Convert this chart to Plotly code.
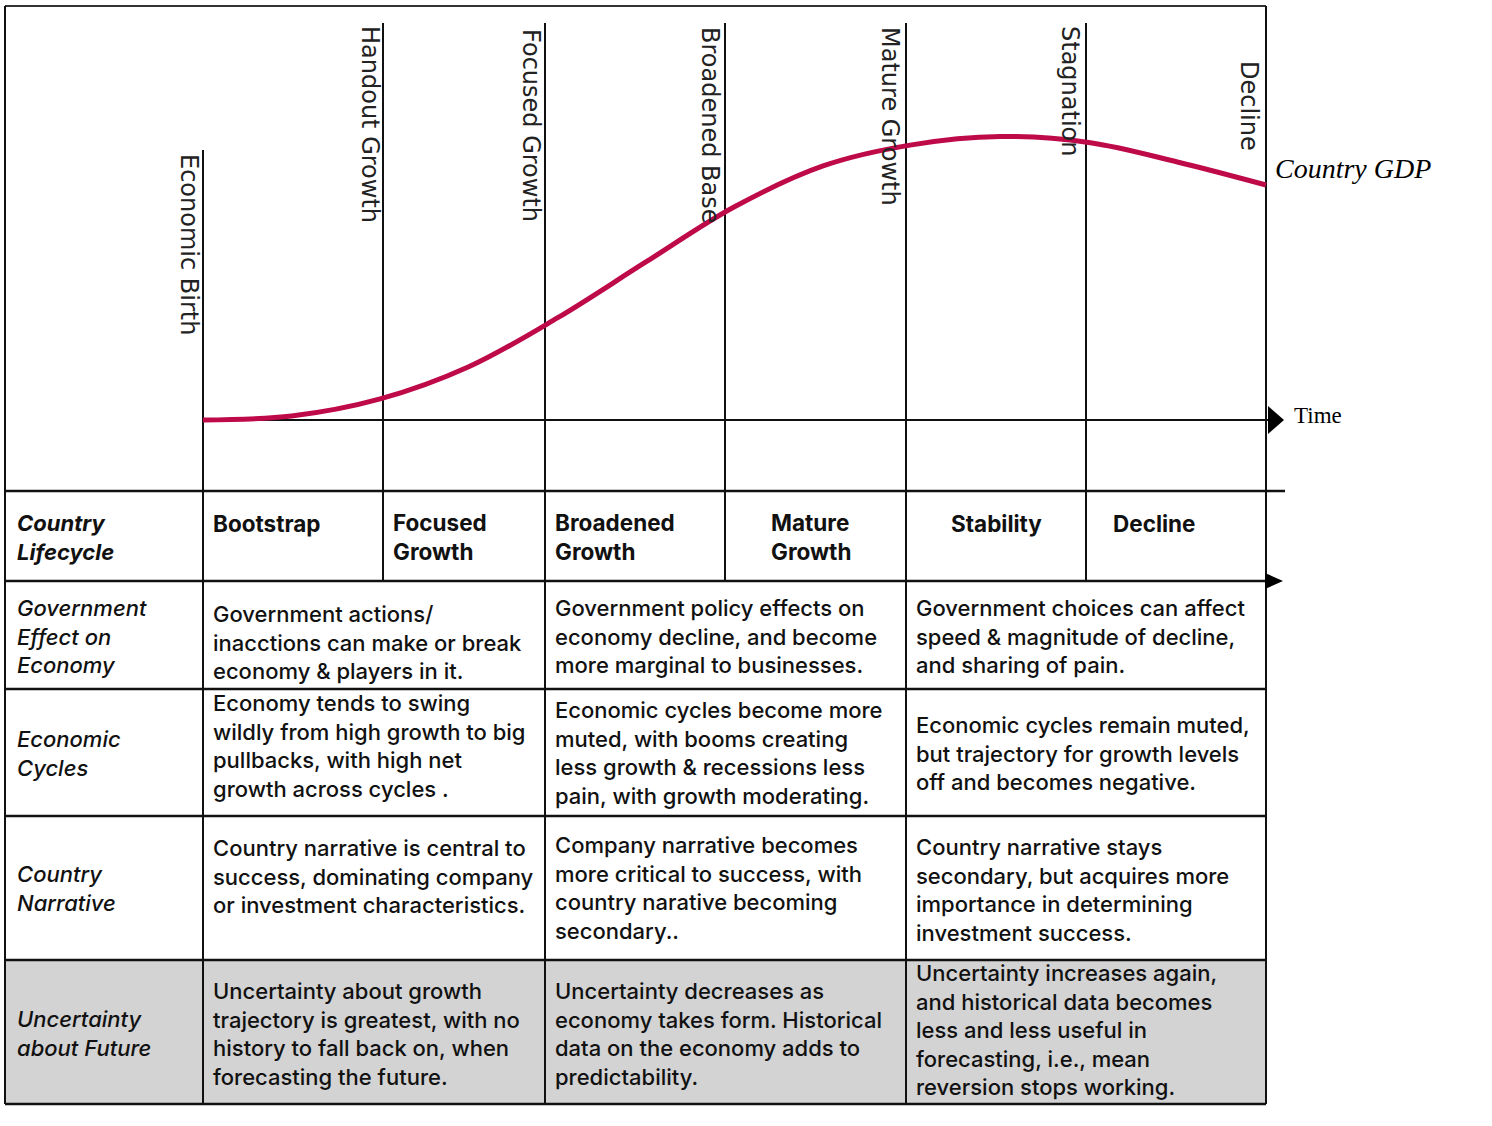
import plotly.graph_objects as go

# --- curve data: GDP over time (time in stage units, GDP index 0-100) ---
TIME = [0, 0.5, 1, 1.5, 2, 2.5, 3, 3.5, 4, 4.5, 5, 5.5, 6]
GDP = [0, 1.0, 5.3, 13.4, 25.7, 39.8, 53.7, 64.0, 69.3, 71.4, 69.9, 65.0, 59.2]

STAGE_LABELS = ["Economic Birth", "Handout Growth", "Focused Growth", "Broadened Base",
                "Mature Growth", "Stagnation", "Decline"]

ROW_LABELS = ["Country<br>Lifecycle", "Government<br>Effect on<br>Economy", "Economic<br>Cycles",
              "Country<br>Narrative", "Uncertainty<br>about Future"]

PHASES = ["Bootstrap", "Focused<br>Growth", "Broadened<br>Growth", "Mature<br>Growth",
          "Stability", "Decline"]

GOV_EFFECT = [
    "Government actions/<br>inacctions can make or break<br>economy & players in it.",
    "Government policy effects on<br>economy decline, and become<br>more marginal to businesses.",
    "Government choices can affect<br>speed & magnitude of decline,<br>and sharing of pain.",
]
CYCLES = [
    "Economy tends to swing<br>wildly from high growth to big<br>pullbacks, with high net<br>growth across cycles .",
    "Economic cycles become more<br>muted, with booms creating<br>less growth & recessions less<br>pain, with growth moderating.",
    "Economic cycles remain muted,<br>but trajectory for growth levels<br>off and becomes negative.",
]
NARRATIVE = [
    "Country narrative is central to<br>success, dominating company<br>or investment characteristics.",
    "Company narrative becomes<br>more critical to success, with<br>country narative becoming<br>secondary..",
    "Country narrative stays<br>secondary, but acquires more<br>importance in determining<br>investment success.",
]
UNCERTAINTY = [
    "Uncertainty about growth<br>trajectory is greatest, with no<br>history to fall back on, when<br>forecasting the future.",
    "Uncertainty decreases as<br>economy takes form. Historical<br>data on the economy adds to<br>predictability.",
    "Uncertainty increases again,<br>and historical data becomes<br>less and less useful in<br>forecasting, i.e., mean<br>reversion stops working.",
]

# --- layout (pixels) ---
W, H = 1492, 1126
COL_X = [5, 203, 383, 545, 725, 906, 1086, 1266]
ROW_Y = [491, 581, 689, 816, 960, 1104]
TOP = 6
LINE_TOP = 23
AXIS_Y = 420

CURVE = "#BE0A48"
INK = "#111111"
SANS = "Inter, Liberation Sans, Arial, sans-serif"


def px(x):
    return x / W


def py(y):
    return 1 - y / H


shapes = []


def line(x0, y0, x1, y1, w=2, color="#111"):
    shapes.append(dict(type="line", xref="paper", yref="paper",
                       x0=px(x0), y0=py(y0), x1=px(x1), y1=py(y1),
                       line=dict(color=color, width=w), layer="below"))


# grey bottom row
shapes.append(dict(type="rect", xref="paper", yref="paper",
                   x0=px(COL_X[0]), x1=px(COL_X[-1]), y0=py(ROW_Y[4]), y1=py(ROW_Y[5]),
                   fillcolor="#D3D3D3", line=dict(width=0), layer="below"))

# frame
line(COL_X[0], TOP, COL_X[-1], TOP, 2, "#333")
line(COL_X[0], TOP, COL_X[0], ROW_Y[-1])
line(COL_X[-1], TOP, COL_X[-1], ROW_Y[-1])
line(COL_X[0], ROW_Y[-1], COL_X[-1], ROW_Y[-1], 2.5)
# table rows
line(COL_X[0], ROW_Y[0], 1285, ROW_Y[0], 2.5)
for y in ROW_Y[1:-1]:
    line(COL_X[0], y, COL_X[-1], y, 2.5)
# stage lines
line(COL_X[1], 150, COL_X[1], ROW_Y[-1])
for i in (2, 4, 6):
    line(COL_X[i], LINE_TOP, COL_X[i], ROW_Y[1])
for i in (3, 5):
    line(COL_X[i], LINE_TOP, COL_X[i], ROW_Y[-1])
# time axis + arrows
line(COL_X[1], AXIS_Y, 1268, AXIS_Y)


def tri(xb, yc, xt, half):
    shapes.append(dict(type="path", xref="paper", yref="paper",
                       path=f"M {px(xb)} {py(yc - half)} L {px(xt)} {py(yc)} L {px(xb)} {py(yc + half)} Z",
                       fillcolor="#000", line=dict(width=0), layer="below"))


tri(1268, AXIS_Y, 1284, 14)
tri(1265, ROW_Y[1], 1283, 8)

fig = go.Figure()

# curve on its own axes, mapped onto the chart area
T0, T1, G0, G1 = COL_X[1], COL_X[-1], AXIS_Y, LINE_TOP
tpad, gpad = 0.1, 5
sx = (T1 - T0) / 6
sg = (G0 - G1) / 100
fig.add_trace(go.Scatter(
    x=TIME, y=GDP, mode="lines", xaxis="x2", yaxis="y2", hoverinfo="skip",
    line=dict(color=CURVE, width=5, shape="spline"), showlegend=False,
))

ann = []
# stage labels (rotated)
STAGE_POS = [(189, 244), (370, 124), (531, 125), (710, 125), (890, 117), (1070, 91), (1249, 106)]
for lbl, (x, y) in zip(STAGE_LABELS, STAGE_POS):
    ann.append(dict(xref="paper", yref="paper", x=px(x), y=py(y), text=lbl, textangle=90,
                    showarrow=False, xanchor="center", yanchor="middle",
                    font=dict(family="DejaVu Sans", size=24, color="#222")))

ann.append(dict(xref="paper", yref="paper", x=px(1273), y=py(168), text="<i>Country GDP</i>",
                showarrow=False, xanchor="left", yanchor="middle",
                font=dict(family="Liberation Serif", size=28, color="#000")))
ann.append(dict(xref="paper", yref="paper", x=px(1292), y=py(416), text="Time",
                showarrow=False, xanchor="left", yanchor="middle",
                font=dict(family="Liberation Serif", size=23, color="#000")))


def cell(x, y, text, bold=False, italic=False, size=22):
    if bold:
        text = f"<b>{text}</b>"
    if italic:
        text = f"<i>{text}</i>"
    ann.append(dict(xref="paper", yref="paper", x=px(x - 2), y=py(y), text=text,
                    showarrow=False, align="left", xanchor="left", yanchor="middle",
                    font=dict(family=SANS, size=size, color=INK, weight=500)))


# row labels
for lbl, y, b in zip(ROW_LABELS, [537, 636, 753, 888, 1033], [True, False, False, False, False]):
    cell(17, y, lbl, bold=b, italic=True)

# header phases
HEAD_POS = [(213, 523), (393, 537), (555, 537), (771, 537), (951, 523), (1113, 523)]
for lbl, (x, y) in zip(PHASES, HEAD_POS):
    cell(x, y, lbl, bold=True, size=22.5)

CELL_X = [213, 555, 916]
for texts, ys in [(GOV_EFFECT, [642, 636, 636]),
                  (CYCLES, [746, 753, 753]),
                  (NARRATIVE, [876, 888, 890]),
                  (UNCERTAINTY, [1034, 1034, 1030])]:
    for t, x, y in zip(texts, CELL_X, ys):
        cell(x, y, t)

fig.update_layout(
    width=W, height=H, autosize=False,
    margin=dict(l=0, r=0, t=0, b=0),
    paper_bgcolor="white", plot_bgcolor="white",
    shapes=shapes, annotations=ann, showlegend=False,
    xaxis=dict(visible=False, range=[0, 1], domain=[0, 1]),
    yaxis=dict(visible=False, range=[0, 1], domain=[0, 1]),
    xaxis2=dict(visible=False, anchor="y2", range=[-tpad, 6 + tpad],
                domain=[px(T0 - tpad * sx), px(T1 + tpad * sx)]),
    yaxis2=dict(visible=False, anchor="x2", range=[-gpad, 100 + gpad],
                domain=[py(G0 + gpad * sg), py(G1 - gpad * sg)]),
)

fig.write_html("out.html", config={"displayModeBar": False},
               post_script="document.body.style.margin='0';")
